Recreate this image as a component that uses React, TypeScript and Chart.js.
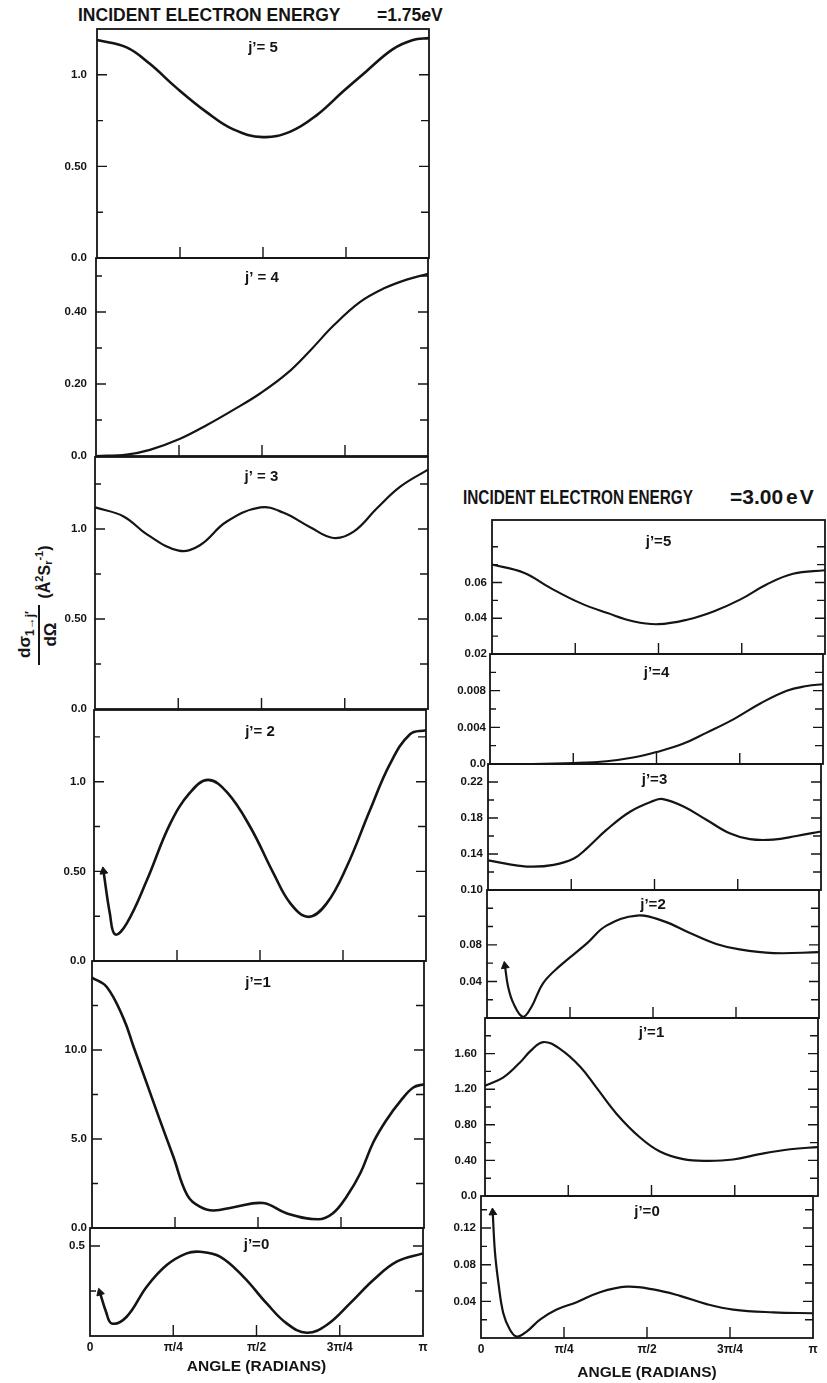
import React, { useEffect, useRef } from 'react';
import { Chart, registerables } from 'chart.js';

Chart.register(...registerables);

const FONT = '"Liberation Sans", Arial, Helvetica, sans-serif';
const INK = '#141414';
const PI = Math.PI;

// ---- shared x axis (radians) ----
const X_TICKS = [0, PI / 4, PI / 2, (3 * PI) / 4, PI];
const X_TICK_LABELS = ['0', 'π/4', 'π/2', '3π/4', 'π'];
const X_INNER_TICKS = [PI / 4, PI / 2, (3 * PI) / 4];
const X_TITLE = 'ANGLE (RADIANS)';

// ---- 1.75 eV ----
const L5_X = [0, 0.28, 0.5, 0.75, 1.04, 1.29, 1.57, 1.83, 2.08, 2.33, 2.55, 2.8, 2.99, 3.1416];
const L5_Y = [1.19, 1.15, 1.06, 0.93, 0.795, 0.702, 0.66, 0.69, 0.78, 0.91, 1.02, 1.14, 1.19, 1.2];

const L4_X = [0, 0.29, 0.51, 0.79, 1.05, 1.3, 1.56, 1.81, 2.03, 2.25, 2.5, 2.72, 2.94, 3.1416];
const L4_Y = [0.0, 0.004, 0.017, 0.047, 0.086, 0.128, 0.175, 0.23, 0.294, 0.363, 0.428, 0.465, 0.49, 0.506];

const L3_X = [0, 0.27, 0.49, 0.79, 0.99, 1.24, 1.56, 1.78, 2.03, 2.25, 2.44, 2.66, 2.88, 3.1416];
const L3_Y = [1.12, 1.07, 0.97, 0.88, 0.91, 1.04, 1.12, 1.09, 1.01, 0.95, 0.985, 1.115, 1.235, 1.33];

const L2_X = [0.09, 0.15, 0.2, 0.31, 0.5, 0.72, 0.91, 1.08, 1.26, 1.48, 1.7, 1.86, 2.03, 2.2, 2.39, 2.61, 2.8, 2.99, 3.1416];
const L2_Y = [0.5, 0.265, 0.148, 0.21, 0.45, 0.765, 0.94, 1.01, 0.94, 0.746, 0.487, 0.32, 0.246, 0.32, 0.524, 0.839, 1.098, 1.265, 1.287];

const L1_X = [0, 0.14, 0.3, 0.39, 0.52, 0.64, 0.77, 0.9, 1.02, 1.15, 1.34, 1.62, 1.84, 2.14, 2.28, 2.41, 2.54, 2.66, 2.79, 2.92, 3.04, 3.1416];
const L1_Y = [14.07, 13.54, 11.75, 10.24, 8.1, 6.1, 4.0, 1.86, 1.2, 0.98, 1.17, 1.4, 0.83, 0.49, 0.83, 1.77, 3.09, 4.79, 6.1, 7.14, 7.89, 8.08];

const L0_X = [0.094, 0.151, 0.205, 0.346, 0.535, 0.724, 0.912, 1.038, 1.226, 1.446, 1.667, 1.855, 2.044, 2.233, 2.453, 2.673, 2.893, 3.1416];
const L0_Y = [0.241, 0.135, 0.07, 0.107, 0.274, 0.394, 0.459, 0.468, 0.441, 0.33, 0.181, 0.07, 0.018, 0.061, 0.181, 0.311, 0.413, 0.459];

// ---- 3.00 eV ----
const R5_X = [0, 0.3, 0.55, 0.83, 1.09, 1.34, 1.57, 1.84, 2.09, 2.34, 2.59, 2.84, 3.1416];
const R5_Y = [0.0701, 0.0655, 0.057, 0.0486, 0.0429, 0.0382, 0.0367, 0.0392, 0.0438, 0.0504, 0.0589, 0.0649, 0.0669];

const R4_X = [0, 0.4, 0.79, 1.1, 1.35, 1.57, 1.82, 2.04, 2.3, 2.55, 2.8, 2.99, 3.1416];
const R4_Y = [0, 0, 0.0001, 0.0003, 0.0007, 0.0013, 0.0022, 0.0034, 0.0049, 0.0066, 0.008, 0.0085, 0.0087];

const R3_X = [0, 0.18, 0.4, 0.62, 0.81, 0.93, 1.12, 1.34, 1.56, 1.65, 1.84, 2.06, 2.28, 2.47, 2.69, 2.91, 3.1416];
const R3_Y = [0.133, 0.129, 0.126, 0.128, 0.135, 0.146, 0.167, 0.187, 0.199, 0.201, 0.193, 0.178, 0.163, 0.1565, 0.156, 0.16, 0.165];

const R2_X = [0.17, 0.2, 0.25, 0.34, 0.42, 0.53, 0.69, 0.94, 1.13, 1.42, 1.67, 1.92, 2.17, 2.39, 2.71, 3.1416];
const R2_Y = [0.057, 0.034, 0.016, 0.0014, 0.012, 0.038, 0.057, 0.081, 0.101, 0.112, 0.106, 0.093, 0.081, 0.075, 0.071, 0.072];

const R1_X = [0, 0.17, 0.33, 0.43, 0.55, 0.71, 0.9, 1.05, 1.24, 1.46, 1.65, 1.87, 2.09, 2.34, 2.59, 2.88, 3.1416];
const R1_Y = [1.24, 1.33, 1.5, 1.63, 1.73, 1.65, 1.45, 1.22, 0.925, 0.66, 0.5, 0.414, 0.395, 0.41, 0.47, 0.525, 0.55];

const R0_X = [0.111, 0.132, 0.164, 0.211, 0.274, 0.338, 0.432, 0.558, 0.716, 0.905, 1.126, 1.378, 1.63, 1.883, 2.135, 2.387, 2.766, 3.1416];
const R0_Y = [0.137, 0.094, 0.061, 0.027, 0.009, 0.0015, 0.007, 0.02, 0.031, 0.039, 0.05, 0.056, 0.053, 0.046, 0.037, 0.031, 0.028, 0.027];

// ---- y ticks ----
const L5_MAJ = [0, 0.5, 1.0]; const L5_LAB = ['0.0', '0.50', '1.0']; const L5_MIN = [0.25, 0.75];
const L4_MAJ = [0, 0.2, 0.4]; const L4_LAB = ['0.0', '0.20', '0.40']; const L4_MIN = [0.1, 0.3, 0.5];
const L3_MAJ = [0, 0.5, 1.0]; const L3_LAB = ['0.0', '0.50', '1.0']; const L3_MIN = [0.25, 0.75, 1.25];
const L2_MAJ = [0, 0.5, 1.0]; const L2_LAB = ['0.0', '0.50', '1.0']; const L2_MIN = [0.25, 0.75, 1.25];
const L1_MAJ = [0, 5, 10]; const L1_LAB = ['0.0', '5.0', '10.0']; const L1_MIN = [2.5, 7.5, 12.5];
const L0_MAJ = [0.5]; const L0_LAB = ['0.5']; const L0_MIN = [0.25];

const R5_MAJ = [0.02, 0.04, 0.06]; const R5_LAB = ['0.02', '0.04', '0.06']; const R5_MIN = [0.03, 0.05, 0.07, 0.08];
const R4_MAJ = [0, 0.004, 0.008]; const R4_LAB = ['0.0', '0.004', '0.008']; const R4_MIN = [0.002, 0.006, 0.01];
const R3_MAJ = [0.1, 0.14, 0.18, 0.22]; const R3_LAB = ['0.10', '0.14', '0.18', '0.22']; const R3_MIN = [0.12, 0.16, 0.2];
const R2_MAJ = [0.04, 0.08]; const R2_LAB = ['0.04', '0.08']; const R2_MIN = [0.02, 0.06, 0.1, 0.12];
const R1_MAJ = [0, 0.4, 0.8, 1.2, 1.6]; const R1_LAB = ['0.0', '0.40', '0.80', '1.20', '1.60']; const R1_MIN = [0.2, 0.6, 1.0, 1.4, 1.8];
const R0_MAJ = [0.04, 0.08, 0.12]; const R0_LAB = ['0.04', '0.08', '0.12']; const R0_MIN = [0.02, 0.06, 0.1, 0.14];

type Spec = {
  id: string;
  xs: number[]; ys: number[];
  min: number; max: number;
  majors: number[]; labels: string[]; minors: number[];
  title: string;
  x0: number; x1: number; top: number; bottom: number;
  titleDy: number; labelPad: number; lw: number;
  arrow?: number; xAxisH?: number;
};

const PANELS: Spec[] = [
  { id: 'L5', xs: L5_X, ys: L5_Y, min: 0, max: 1.25, majors: L5_MAJ, labels: L5_LAB, minors: L5_MIN, title: 'j’= 5', x0: 97, x1: 429, top: 29, bottom: 258, titleDy: 19, labelPad: 10, lw: 2.6 },
  { id: 'L4', xs: L4_X, ys: L4_Y, min: 0, max: 0.55, majors: L4_MAJ, labels: L4_LAB, minors: L4_MIN, title: 'j’ = 4', x0: 96, x1: 428, top: 258, bottom: 456, titleDy: 20, labelPad: 9, lw: 2.2 },
  { id: 'L3', xs: L3_X, ys: L3_Y, min: 0, max: 1.4, majors: L3_MAJ, labels: L3_LAB, minors: L3_MIN, title: 'j’ = 3', x0: 95, x1: 428, top: 457, bottom: 709, titleDy: 20, labelPad: 8, lw: 2.2 },
  { id: 'L2', xs: L2_X, ys: L2_Y, min: 0, max: 1.4, majors: L2_MAJ, labels: L2_LAB, minors: L2_MIN, title: 'j’= 2', x0: 94, x1: 426, top: 710, bottom: 961, titleDy: 22, labelPad: 8, lw: 2.6, arrow: -9 },
  { id: 'L1', xs: L1_X, ys: L1_Y, min: 0, max: 15, majors: L1_MAJ, labels: L1_LAB, minors: L1_MIN, title: 'j’=1', x0: 92, x1: 424, top: 961, bottom: 1228, titleDy: 22, labelPad: 5, lw: 2.6 },
  { id: 'L0', xs: L0_X, ys: L0_Y, min: 0, max: 0.6, majors: L0_MAJ, labels: L0_LAB, minors: L0_MIN, title: 'j’=0', x0: 90, x1: 423, top: 1228, bottom: 1336, titleDy: 17, labelPad: 5, lw: 2.6, arrow: -17, xAxisH: 40 },
  { id: 'R5', xs: R5_X, ys: R5_Y, min: 0.02, max: 0.095, majors: R5_MAJ, labels: R5_LAB, minors: R5_MIN, title: 'j’=5', x0: 492, x1: 825, top: 520, bottom: 654, titleDy: 22, labelPad: 5, lw: 2.1 },
  { id: 'R4', xs: R4_X, ys: R4_Y, min: 0, max: 0.012, majors: R4_MAJ, labels: R4_LAB, minors: R4_MIN, title: 'j’=4', x0: 490, x1: 823, top: 654, bottom: 764, titleDy: 19, labelPad: 4, lw: 2.1 },
  { id: 'R3', xs: R3_X, ys: R3_Y, min: 0.1, max: 0.24, majors: R3_MAJ, labels: R3_LAB, minors: R3_MIN, title: 'j’=3', x0: 488, x1: 821, top: 764, bottom: 890, titleDy: 16, labelPad: 5, lw: 2.2 },
  { id: 'R2', xs: R2_X, ys: R2_Y, min: 0, max: 0.14, majors: R2_MAJ, labels: R2_LAB, minors: R2_MIN, title: 'j’=2', x0: 487, x1: 819, top: 890, bottom: 1018, titleDy: 15, labelPad: 5, lw: 2.2, arrow: -9 },
  { id: 'R1', xs: R1_X, ys: R1_Y, min: 0, max: 2.0, majors: R1_MAJ, labels: R1_LAB, minors: R1_MIN, title: 'j’=1', x0: 485, x1: 818, top: 1018, bottom: 1196, titleDy: 15, labelPad: 8, lw: 2.2 },
  { id: 'R0', xs: R0_X, ys: R0_Y, min: 0, max: 0.155, majors: R0_MAJ, labels: R0_LAB, minors: R0_MIN, title: 'j’=0', x0: 481, x1: 813, top: 1196, bottom: 1338, titleDy: 16, labelPad: 5, lw: 2.2, arrow: -4, xAxisH: 44 },
];

const YW = 70; // width reserved for y labels
const PAD_T = 8;
const PAD_R = 8;
const PAD_B = 8;

const framePlugin = {
  id: 'frame',
  afterDraw(chart: any, _args: any, opts: any) {
    const { ctx, chartArea: a, scales } = chart;
    const y = scales.y;
    const x = scales.x;
    ctx.save();
    ctx.strokeStyle = INK;
    ctx.lineWidth = 1.8;
    ctx.strokeRect(a.left, a.top, a.right - a.left, a.bottom - a.top);
    ctx.lineWidth = 1.4;
    ctx.beginPath();
    const inside = (p: number) => p > a.top + 1 && p < a.bottom - 1;
    for (const v of opts.majors) {
      const p = y.getPixelForValue(v);
      if (!inside(p)) continue;
      ctx.moveTo(a.left, p); ctx.lineTo(a.left + 10, p);
      ctx.moveTo(a.right, p); ctx.lineTo(a.right - 10, p);
    }
    for (const v of opts.minors) {
      const p = y.getPixelForValue(v);
      if (!inside(p)) continue;
      ctx.moveTo(a.left, p); ctx.lineTo(a.left + 6, p);
      ctx.moveTo(a.right, p); ctx.lineTo(a.right - 8, p);
    }
    for (const v of X_INNER_TICKS) {
      const p = x.getPixelForValue(v);
      ctx.moveTo(p, a.bottom); ctx.lineTo(p, a.bottom - 11);
    }
    ctx.stroke();
    ctx.fillStyle = INK;
    ctx.font = `bold 15px ${FONT}`;
    ctx.textAlign = 'center';
    ctx.textBaseline = 'middle';
    ctx.fillText(opts.title, (a.left + a.right) / 2, a.top + opts.titleDy);
    ctx.restore();
  },
};

function Panel({ s }: { s: Spec }) {
  const ref = useRef<HTMLCanvasElement>(null);
  const w = s.x1 - s.x0;
  const h = s.bottom - s.top;
  const isBottom = !!s.xAxisH;
  const cw = YW + w + PAD_R;
  const ch = PAD_T + h + (isBottom ? (s.xAxisH as number) : PAD_B);

  useEffect(() => {
    const pts = s.xs.map((x, i) => ({ x, y: s.ys[i] }));
    const hasArrow = s.arrow !== undefined;
    const chart = new Chart(ref.current as HTMLCanvasElement, {
      type: 'scatter',
      data: {
        datasets: [
          {
            data: pts,
            showLine: true,
            borderColor: INK,
            borderWidth: s.lw,
            tension: 0.4,
            pointStyle: 'triangle',
            pointRadius: (c: any) => (hasArrow && c.dataIndex === 0 ? 4.5 : 0),
            pointHoverRadius: 0,
            pointRotation: s.arrow || 0,
            pointBackgroundColor: INK,
            pointBorderColor: INK,
            pointBorderWidth: 1,
            clip: 8,
          } as any,
        ],
      },
      options: {
        responsive: false,
        maintainAspectRatio: false,
        animation: false,
        devicePixelRatio: 1,
        events: [],
        layout: { padding: { left: 0, top: PAD_T, right: PAD_R, bottom: isBottom ? 0 : PAD_B } },
        plugins: {
          legend: { display: false },
          tooltip: { enabled: false },
          frame: { majors: s.majors, minors: s.minors, title: s.title, titleDy: s.titleDy },
        } as any,
        scales: {
          x: {
            type: 'linear',
            min: 0,
            max: PI,
            display: isBottom,
            grid: { display: false, drawTicks: false },
            border: { display: false },
            afterBuildTicks: (sc: any) => {
              sc.ticks = X_TICKS.map((v) => ({ value: v }));
            },
            afterFit: (sc: any) => {
              sc.height = s.xAxisH || 0;
              sc.paddingLeft = 0;
              sc.paddingRight = 0;
            },
            ticks: {
              autoSkip: false,
              maxRotation: 0,
              minRotation: 0,
              padding: 4,
              color: INK,
              font: { family: FONT, size: 12, weight: 'bold' },
              callback: (_v: any, i: number) => X_TICK_LABELS[i],
            },
            title: {
              display: isBottom,
              text: X_TITLE,
              color: INK,
              padding: 0,
              font: { family: FONT, size: 15.5, weight: 'bold' },
            },
          },
          y: {
            type: 'linear',
            min: s.min,
            max: s.max,
            grid: { display: false, drawTicks: false },
            border: { display: false },
            afterBuildTicks: (sc: any) => {
              sc.ticks = s.majors.map((v) => ({ value: v }));
            },
            afterFit: (sc: any) => {
              sc.width = YW;
              sc.paddingTop = 0;
              sc.paddingBottom = 0;
            },
            ticks: {
              autoSkip: false,
              padding: s.labelPad,
              color: INK,
              font: { family: FONT, size: 11.5, weight: 'bold' },
              callback: (_v: any, i: number) => s.labels[i],
            },
          },
        } as any,
      },
      plugins: [framePlugin as any],
    });
    return () => chart.destroy();
  }, []);

  return (
    <canvas
      ref={ref}
      width={cw}
      height={ch}
      style={{ position: 'absolute', left: s.x0 - YW, top: s.top - PAD_T, width: cw, height: ch }}
    />
  );
}

const textBase: React.CSSProperties = {
  position: 'absolute',
  fontFamily: FONT,
  fontWeight: 'bold',
  color: INK,
  whiteSpace: 'nowrap',
};

export default function App() {
  return (
    <div style={{ position: 'absolute', left: 0, top: 0, width: 827, height: 1383, background: '#fff', overflow: 'hidden' }}>
      {/* left title */}
      <div style={{ ...textBase, left: 78, top: 6.5, fontSize: 17.5, lineHeight: '17.5px' }}>INCIDENT ELECTRON ENERGY</div>
      <div style={{ ...textBase, left: 377, top: 6.5, fontSize: 17.5, lineHeight: '17.5px' }}>
        =1.75<i>e</i>V
      </div>
      {/* right title */}
      <div style={{ ...textBase, left: 463, top: 485.5, fontSize: 21, lineHeight: '21px', transform: 'scaleX(0.73)', transformOrigin: '0 0' }}>
        INCIDENT ELECTRON ENERGY
      </div>
      <div style={{ ...textBase, left: 730, top: 485.5, fontSize: 21, lineHeight: '21px' }}>=3.00</div>
      <div style={{ ...textBase, left: 786, top: 485.5, fontSize: 21, lineHeight: '21px', letterSpacing: 2 }}>eV</div>

      {/* y axis title */}
      <div
        style={{
          ...textBase,
          left: 38 - 67,
          top: 605 - 27,
          width: 134,
          height: 54,
          transform: 'rotate(-90deg)',
          transformOrigin: '50% 50%',
          display: 'flex',
          alignItems: 'center',
          justifyContent: 'center',
        }}
      >
        <div style={{ display: 'flex', flexDirection: 'column', alignItems: 'center', width: 60 }}>
          <div style={{ fontSize: 17, lineHeight: '18px' }}>
            dσ<span style={{ fontSize: 12, position: 'relative', top: 4 }}>1→j′</span>
          </div>
          <div style={{ width: 60, height: 2, background: INK, margin: '3px 0 2px' }} />
          <div style={{ fontSize: 17, lineHeight: '18px' }}>dΩ</div>
        </div>
        <div style={{ fontSize: 16, marginLeft: 6, marginTop: 14 }}>
          (Å<span style={{ fontSize: 11, position: 'relative', top: -7 }}>2</span>S
          <span style={{ fontSize: 11, position: 'relative', top: 2 }}>r</span>
          <span style={{ fontSize: 11, position: 'relative', top: -7 }}>-1</span>)
        </div>
      </div>

      {PANELS.map((s) => (
        <Panel key={s.id} s={s} />
      ))}
    </div>
  );
}
